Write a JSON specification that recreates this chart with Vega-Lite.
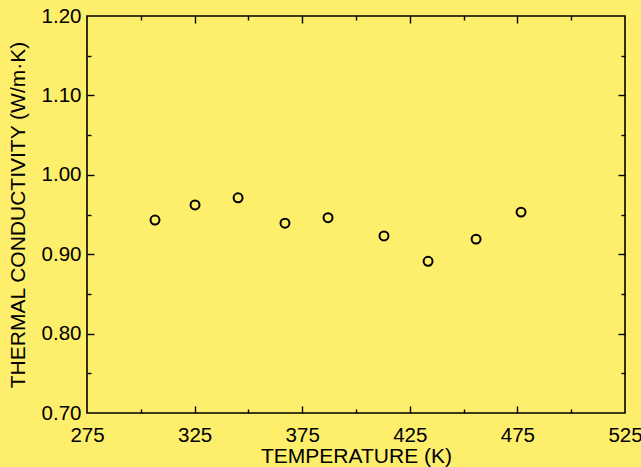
{
  "$schema": "https://vega.github.io/schema/vega-lite/v6.json",
  "width": 538,
  "height": 397,
  "autosize": "none",
  "padding": {"left": 87, "top": 16, "right": 16, "bottom": 54},
  "background": "#FDEE6B",
  "config": {
    "view": {"stroke": "black", "strokeWidth": 1.6},
    "axis": {
      "domain": false,
      "tickColor": "black",
      "tickWidth": 1.4,
      "grid": false,
      "labelFont": "Liberation Sans",
      "labelFontSize": 20.5,
      "labelColor": "black",
      "labelFlush": false,
      "titleFont": "Liberation Sans",
      "titleFontSize": 21,
      "titleFontWeight": "normal",
      "titleColor": "black"
    }
  },
  "data": {
    "values": [
      {"temperature": 306.6, "conductivity": 0.943},
      {"temperature": 325.2, "conductivity": 0.962},
      {"temperature": 345.2, "conductivity": 0.971},
      {"temperature": 367.0, "conductivity": 0.939},
      {"temperature": 387.0, "conductivity": 0.946},
      {"temperature": 413.0, "conductivity": 0.923},
      {"temperature": 433.5, "conductivity": 0.891},
      {"temperature": 455.8, "conductivity": 0.919},
      {"temperature": 476.7, "conductivity": 0.953}
    ]
  },
  "layer": [
    {
      "mark": {"type": "point", "shape": "circle", "size": 80, "filled": false, "stroke": "black", "strokeWidth": 2, "opacity": 1},
      "encoding": {
        "x": {
          "field": "temperature", "type": "quantitative",
          "scale": {"domain": [275, 525], "nice": false, "zero": false},
          "axis": {
            "orient": "bottom",
            "title": "TEMPERATURE (K)",
            "titlePadding": 0,
            "values": [275, 325, 375, 425, 475, 525],
            "ticks": false,
            "labelPadding": 12
          }
        },
        "y": {
          "field": "conductivity", "type": "quantitative",
          "scale": {"domain": [0.7, 1.2], "nice": false, "zero": false},
          "axis": {
            "orient": "left",
            "title": "THERMAL CONDUCTIVITY (W/m·K)",
            "titlePadding": 13,
            "values": [0.7, 0.8, 0.9, 1.0, 1.1, 1.2],
            "format": ".2f",
            "ticks": false,
            "labelPadding": 6
          }
        }
      }
    },
    {
      "mark": {"type": "point", "opacity": 0},
      "encoding": {
        "x": {
          "field": "temperature", "type": "quantitative",
          "axis": {"orient": "bottom", "title": null, "labels": false, "offset": -7,
                   "values": [325, 375, 425, 475], "tickSize": 7}
        },
        "y": {
          "field": "conductivity", "type": "quantitative",
          "axis": {"orient": "left", "title": null, "labels": false, "offset": -7,
                   "values": [0.8, 0.9, 1.0, 1.1], "tickSize": 7}
        }
      }
    },
    {
      "mark": {"type": "point", "opacity": 0},
      "encoding": {
        "x": {
          "field": "temperature", "type": "quantitative",
          "axis": {"orient": "bottom", "title": null, "labels": false, "offset": -4,
                   "values": [300, 350, 400, 450, 500], "tickSize": 4}
        },
        "y": {
          "field": "conductivity", "type": "quantitative",
          "axis": {"orient": "left", "title": null, "labels": false, "offset": -4,
                   "values": [0.75, 0.85, 0.95, 1.05, 1.15], "tickSize": 4}
        }
      }
    },
    {
      "mark": {"type": "point", "opacity": 0},
      "encoding": {
        "x": {
          "field": "temperature", "type": "quantitative",
          "axis": {"orient": "top", "title": null, "labels": false, "offset": -7,
                   "values": [325, 375, 425, 475], "tickSize": 7}
        },
        "y": {
          "field": "conductivity", "type": "quantitative",
          "axis": {"orient": "right", "title": null, "labels": false, "offset": -7,
                   "values": [0.8, 0.9, 1.0, 1.1], "tickSize": 7}
        }
      }
    },
    {
      "mark": {"type": "point", "opacity": 0},
      "encoding": {
        "x": {
          "field": "temperature", "type": "quantitative",
          "axis": {"orient": "top", "title": null, "labels": false, "offset": -4,
                   "values": [300, 350, 400, 450, 500], "tickSize": 4}
        },
        "y": {
          "field": "conductivity", "type": "quantitative",
          "axis": {"orient": "right", "title": null, "labels": false, "offset": -4,
                   "values": [0.75, 0.85, 0.95, 1.05, 1.15], "tickSize": 4}
        }
      }
    }
  ],
  "resolve": {"axis": {"x": "independent", "y": "independent"}}
}
